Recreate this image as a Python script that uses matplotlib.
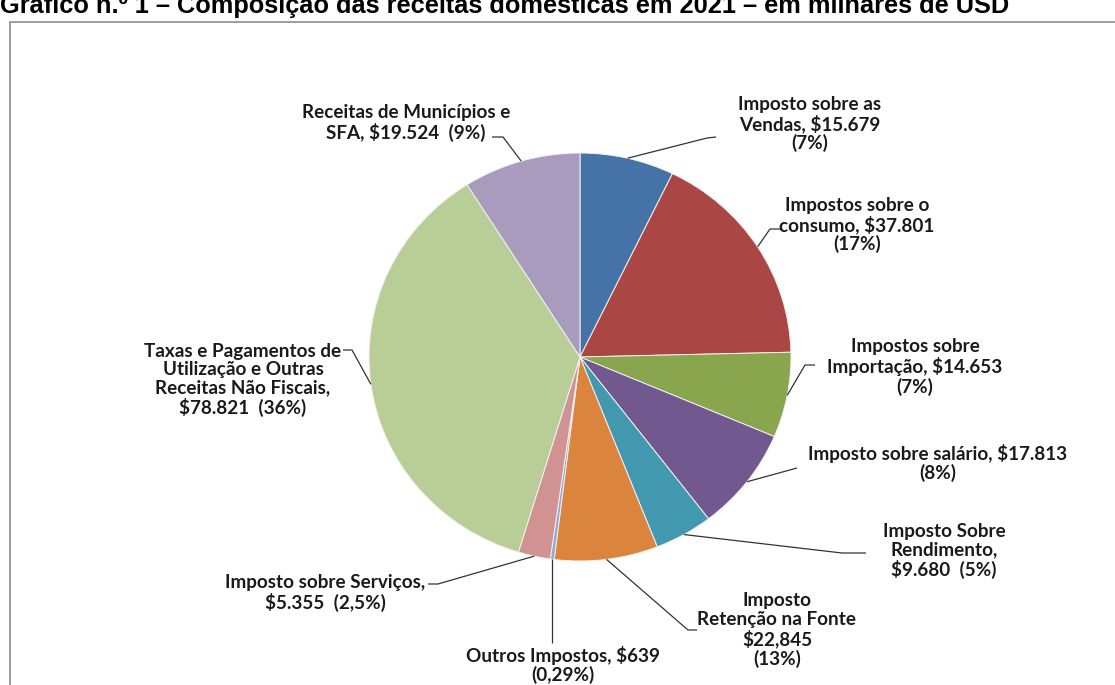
import matplotlib.pyplot as plt
from matplotlib.patches import Rectangle
import numpy as np

# slices, clockwise from the top
categories = ["Imposto sobre as Vendas", "Impostos sobre o consumo",
              "Impostos sobre Importação", "Imposto sobre salário",
              "Imposto Sobre Rendimento", "Imposto Retenção na Fonte",
              "Outros Impostos", "Imposto sobre Serviços",
              "Taxas e Pagamentos de Utilização e Outras Receitas Não Fiscais",
              "Receitas de Municípios e SFA"]
# slice sizes as drawn (retenção slice is drawn smaller than its label says)
values = [15.679, 37.801, 14.653, 17.813, 9.680, 17.2, 0.639, 5.355, 78.821, 19.524]
labels = ["Imposto sobre as\nVendas, $15.679\n(7%)",
          "Impostos sobre o\nconsumo, $37.801\n(17%)",
          "Impostos sobre\nImportação, $14.653\n(7%)",
          "Imposto sobre salário, $17.813\n(8%)",
          "Imposto Sobre\nRendimento,\n$9.680  (5%)",
          "Imposto\nRetenção na Fonte\n$22,845\n(13%)",
          "Outros Impostos, $639\n(0,29%)",
          "Imposto sobre Serviços,\n$5.355  (2,5%)",
          "Taxas e Pagamentos de\nUtilização e Outras\nReceitas Não Fiscais,\n$78.821  (36%)",
          "Receitas de Municípios e\nSFA, $19.524  (9%)"]
colors = ["#4572A7", "#AA4643", "#89A54E", "#71588F", "#4198AF",
          "#DB843D", "#93A9CF", "#D19392", "#B9CD96", "#A99BBD"]

title = "Gráfico n.º 1 – Composição das receitas domésticas em 2021 – em milhares de USD"

W, H = 1115, 685
CX, CY, RX, RY = 580, 357, 211, 204


def P(px, py):
    # pixel position -> data coords of the pie axes
    return (px - CX) / RX, (CY - py) / RY


# label layout in pixels: text centre, elbow of leader, end of leader
text_pos = [(810, 124), (857, 225), (915, 367), (938, 463), (944, 551),
            (777, 630), (563, 665), (325, 593), (243, 380), (406, 123)]
elbows = [(707, 138), (770, 229), (805, 365), (797, 468), (842, 553),
          (688, 630), (None, 643), (438, 584), (352, 350), (503, 137)]
ends = [(716, 137), (781, 229), (815, 365), (797, 468), (866, 553),
        (697, 630), (None, 643), (428, 584), (343, 350), (492, 137)]

fig = plt.figure(figsize=(W / 100, H / 100), dpi=100)
ax = fig.add_axes([0, 0, 1, 1])

wedges, _ = ax.pie(values, colors=colors, startangle=90, counterclock=False,
                   radius=1, center=(0, 0),
                   wedgeprops=dict(edgecolor="#f2f2f2", linewidth=0.7))
ax.set_aspect("auto")
ax.set_xlim(-CX / RX, (W - CX) / RX)
ax.set_ylim(-(H - CY) / RY, CY / RY)
ax.axis("off")

for w, lab, tp, el, en in zip(wedges, labels, text_pos, elbows, ends):
    ang = np.deg2rad((w.theta1 + w.theta2) / 2)
    ax_, ay_ = np.cos(ang), np.sin(ang)
    ex, ey = el
    nx, ny = en
    if ex is None:
        ex = nx = CX + RX * ax_
    p1 = P(ex, ey)
    p2 = P(nx, ny)
    ax.plot([ax_, p1[0], p2[0]], [ay_, p1[1], p2[1]], color="#333333",
            lw=0.9, solid_capstyle="butt")
    tx, ty = P(*tp)
    ax.text(tx, ty, lab, ha="center", va="center", fontsize=13.6,
            fontweight="bold", family="Lato", color="#1a1a1a",
            linespacing=1.1)

# chart area border
fig.patches.append(Rectangle((10 / W, -0.1), 1.2, 1.1 - 22 / H,
                             transform=fig.transFigure, fill=False,
                             edgecolor="#8c8c8c", lw=1.2))

fig.text(0.0, 1 - 13 / H, title, ha="left", va="baseline", fontsize=18.3,
         fontweight="bold", family="Liberation Sans", color="black")

fig.savefig("out.png", dpi=100)
